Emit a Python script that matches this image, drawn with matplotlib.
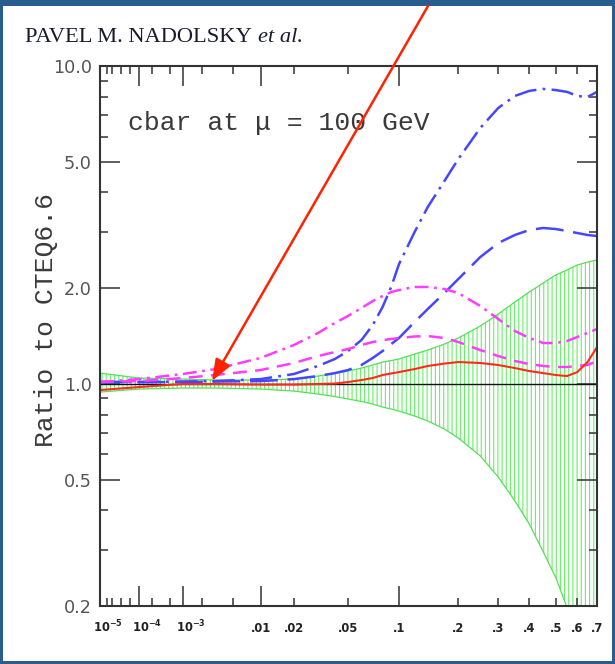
import numpy as np
import matplotlib
matplotlib.use('Agg')
import matplotlib.pyplot as plt
import matplotlib.transforms as mtransforms
from matplotlib.patches import Rectangle, FancyArrowPatch

plt.rcParams['lines.scale_dashes'] = False
plt.rcParams['hatch.linewidth'] = 0.8

# ---------------- data ----------------
x_vals = [1e-5, 1e-4, 1e-3, 3e-3, 0.01, 0.02, 0.03, 0.04, 0.05, 0.06, 0.07, 0.08, 0.09, 0.1,
          0.12, 0.14, 0.17, 0.2, 0.25, 0.3, 0.35, 0.4, 0.45, 0.5, 0.55, 0.6, 0.65, 0.7]

blue_dashdot = [1.013, 1.013, 1.017, 1.020, 1.035, 1.074, 1.138, 1.197, 1.268, 1.373, 1.531,
                1.745, 2.02, 2.38, 3.004, 3.601, 4.346, 5.098, 6.383, 7.38, 8.05, 8.35,
                8.47, 8.40, 8.29, 8.05, 7.99, 8.29]
blue_dashed = [1.013, 1.013, 1.013, 1.017, 1.020, 1.035, 1.058, 1.081, 1.105, 1.146, 1.206,
               1.268, 1.334, 1.394, 1.565, 1.720, 1.931, 2.137, 2.506, 2.774, 2.940, 3.048,
               3.093, 3.07, 3.026, 2.982, 2.94, 2.918]
magenta_dashdot = [1.013, 1.035, 1.074, 1.113, 1.206, 1.325, 1.445, 1.554, 1.635, 1.732, 1.822,
                   1.889, 1.945, 1.973, 2.017, 2.017, 1.987, 1.931, 1.757, 1.599, 1.466, 1.394,
                   1.344, 1.344, 1.364, 1.404, 1.445, 1.488]
magenta_dashed = [1.013, 1.020, 1.043, 1.066, 1.105, 1.163, 1.223, 1.259, 1.287, 1.325, 1.354,
                  1.373, 1.384, 1.394, 1.409, 1.414, 1.394, 1.354, 1.277, 1.223, 1.180, 1.154,
                  1.138, 1.130, 1.130, 1.138, 1.146, 1.180]
red_solid = [0.956, 0.977, 0.999, 0.999, 0.995, 0.995, 0.999, 1.002, 1.013, 1.028, 1.043,
             1.066, 1.078, 1.089, 1.113, 1.138, 1.158, 1.171, 1.163, 1.146, 1.121, 1.097,
             1.081, 1.066, 1.058, 1.089, 1.171, 1.305]
band_upper = [1.081, 1.043, 1.035, 1.028, 1.028, 1.035, 1.058, 1.078, 1.097, 1.121, 1.146,
              1.171, 1.184, 1.197, 1.241, 1.277, 1.334, 1.394, 1.520, 1.658, 1.809, 1.945,
              2.076, 2.200, 2.281, 2.365, 2.416, 2.453]
band_lower = [0.942, 0.963, 0.970, 0.970, 0.963, 0.949, 0.929, 0.912, 0.896, 0.880, 0.864,
              0.845, 0.833, 0.821, 0.792, 0.764, 0.721, 0.675, 0.593, 0.509, 0.428, 0.362,
              0.296, 0.246, 0.198, 0.156, 0.121, 0.094]

y_major = [0.2, 0.5, 1.0, 2.0, 5.0, 10.0]
y_major_labels = ['0.2', '0.5', '1.0', '2.0', '5.0', '10.0']
y_minor = [0.3, 0.4, 0.6, 0.7, 0.8, 0.9, 3, 4, 6, 7, 8, 9]

x_major = [1e-5, 1e-4, 1e-3, 0.01, 0.1]
x_minor = [1.5e-5, 2e-5, 3.5e-5, 6e-5, 2e-4, 5e-4, 2e-3, 5e-3,
           0.02, 0.05, 0.2, 0.3, 0.4, 0.5, 0.6]
x_label_vals = [1e-5, 1e-4, 1e-3, 0.01, 0.02, 0.05, 0.1, 0.2, 0.3, 0.4, 0.5, 0.6, 0.7]
x_label_text = [r'$\mathbf{10^{-5}}$', r'$\mathbf{10^{-4}}$', r'$\mathbf{10^{-3}}$',
                '.01', '.02', '.05', '.1', '.2', '.3', '.4', '.5', '.6', '.7']

# ---------------- custom x scale (log at small x, stretched at large x) ----------------
_U = np.log10([1e-5, 1e-4, 1e-3, 2e-3, 5e-3, 0.01, 0.02, 0.05, 0.1, 0.2, 0.3, 0.4, 0.5, 0.6, 0.7])
_P = np.array([100, 139, 183, 201.7, 232.7, 260.5, 294, 348, 399, 458.3, 498.3, 529.3,
               555.7, 577.3, 597.0])


def _fwd(x):
    x = np.asarray(x, dtype=float)
    with np.errstate(divide='ignore', invalid='ignore'):
        u = np.log10(np.where(x > 0, x, 1e-30))
    p = np.interp(u, _U, _P)
    s0 = (_P[1] - _P[0]) / (_U[1] - _U[0])
    s1 = (_P[-1] - _P[-2]) / (_U[-1] - _U[-2])
    p = np.where(u < _U[0], _P[0] + (u - _U[0]) * s0, p)
    p = np.where(u > _U[-1], _P[-1] + (u - _U[-1]) * s1, p)
    return p


def _inv(p):
    p = np.asarray(p, dtype=float)
    u = np.interp(p, _P, _U)
    s0 = (_U[1] - _U[0]) / (_P[1] - _P[0])
    s1 = (_U[-1] - _U[-2]) / (_P[-1] - _P[-2])
    u = np.where(p < _P[0], _U[0] + (p - _P[0]) * s0, u)
    u = np.where(p > _P[-1], _U[-1] + (p - _P[-1]) * s1, u)
    return 10.0 ** u


# ---------------- figure ----------------
W, H = 615, 664
fig = plt.figure(figsize=(W / 100, H / 100), dpi=100)
fig.patch.set_facecolor('#2a5d8f')
fig.patches.append(Rectangle((3 / W, 3 / H), 609 / W, 655 / H, transform=fig.transFigure,
                             facecolor='white', edgecolor='none', zorder=-10))

ax = fig.add_axes([100 / W, 1 - 606 / H, 497 / W, 540 / H])
ax.set_facecolor('white')
ax.set_xscale('function', functions=(_fwd, _inv))
ax.set_yscale('log')
ax.set_xlim(1e-5, 0.7)
ax.set_ylim(0.2, 10.0)

# uncertainty band
ax.fill_between(x_vals, band_lower, band_upper, facecolor='none', edgecolor='#66f066',
                hatch='||||', linewidth=0, zorder=1)
ax.plot(x_vals, band_upper, color='#55e055', lw=0.9, zorder=2)
ax.plot(x_vals, band_lower, color='#55e055', lw=0.9, zorder=2)

ax.axhline(1.0, color='#111111', lw=1.0, zorder=3)

ax.plot(x_vals, blue_dashed, color='#4646ff', lw=1.8, dashes=(20, 7), zorder=4)
ax.plot(x_vals, blue_dashdot, color='#4646ff', lw=1.8, dashes=(16, 4.5, 2, 4.5), zorder=4)
ax.plot(x_vals, magenta_dashed, color='#ff3cff', lw=1.8, dashes=(10, 6), zorder=4)
ax.plot(x_vals, magenta_dashdot, color='#ff3cff', lw=1.8, dashes=(10, 4, 2, 4), zorder=4)
ax.plot(x_vals, red_solid, color='#ff2a1a', lw=1.5, zorder=5)

# axes styling
for sp in ax.spines.values():
    sp.set_linewidth(1.5)
    sp.set_color('#333333')
    sp.set_zorder(6)

ax.set_yticks(y_major)
ax.set_yticklabels(y_major_labels)
ax.set_yticks(y_minor, minor=True)
ax.yaxis.set_minor_formatter(matplotlib.ticker.NullFormatter())
ax.set_xticks(x_major)
ax.set_xticks(x_minor, minor=True)
ax.set_xticklabels([''] * len(x_major))
ax.xaxis.set_minor_formatter(matplotlib.ticker.NullFormatter())

ax.tick_params(which='both', direction='in', top=True, right=True, color='#333333', width=1.1)
ax.tick_params(which='major', length=14.4)
ax.tick_params(which='minor', length=5.8)
ax.tick_params(axis='y', which='major', pad=6, labelsize=12.7, labelcolor='#555555')
for lab in ax.get_yticklabels():
    lab.set_fontfamily('DejaVu Sans')

# x tick labels (manual, common baseline)
xtr = ax.get_xaxis_transform()
for v, t in zip(x_label_vals, x_label_text):
    if t.startswith('$'):
        tr = xtr + mtransforms.ScaledTranslation(-7 / 100, 0, fig.dpi_scale_trans)
        ax.text(v, -26 / 540, t, transform=tr, ha='left', va='baseline', fontsize=8.3,
                color='#222222', family='DejaVu Sans', clip_on=False)
    else:
        ax.text(v, -26 / 540, t, transform=xtr, ha='center', va='baseline', fontsize=8.3,
                color='#222222', family='DejaVu Sans', weight='bold', clip_on=False)

# texts
fig.text(128 / W, 1 - 130 / H, 'cbar at \u03bc = 100 GeV', family='Liberation Mono',
         fontsize=19, color='#3a3a3a', ha='left', va='baseline')
fig.text(46 / W, 1 - 320 / H, 'Ratio to CTEQ6.6', family='Liberation Mono', fontsize=19,
         color='#3a3a3a', rotation=90, ha='center', va='center')
t1 = fig.text(25 / W, 1 - 42.5 / H, 'PAVEL M. NADOLSKY', family='Liberation Serif',
              fontsize=16.2, color='#1a1a2e', ha='left', va='baseline')
renderer = fig.canvas.get_renderer()
bb = t1.get_window_extent(renderer=renderer)
fig.text((bb.x1 + 6) / W, 1 - 42.5 / H, 'et al.', family='Liberation Serif', style='italic',
         fontsize=16.2, color='#1a1a2e', ha='left', va='baseline')

# red arrow annotation
arrow = FancyArrowPatch(posA=(428 / W, 1 - 6 / H), posB=(212 / W, 1 - 381 / H),
                        transform=fig.transFigure,
                        arrowstyle='-|>,head_length=0.65,head_width=0.25', mutation_scale=20,
                        color='#ff2200', lw=1.8, shrinkA=0, shrinkB=0, zorder=20)
fig.patches.append(arrow)

fig.savefig('out.png', dpi=100, facecolor=fig.get_facecolor())
